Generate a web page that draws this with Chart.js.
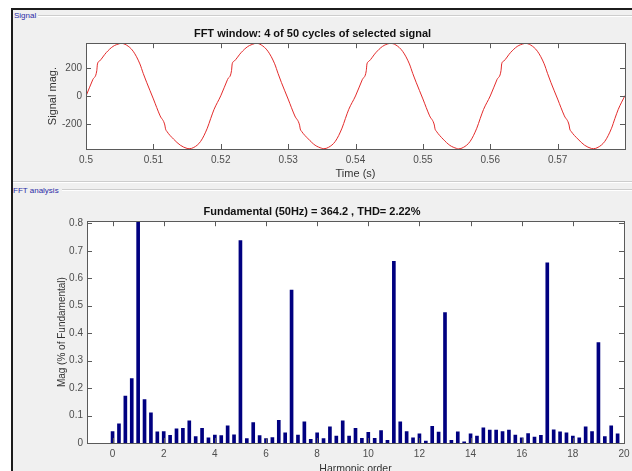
<!DOCTYPE html>
<html>
<head>
<meta charset="utf-8">
<script src="https://cdn.jsdelivr.net/npm/chart.js@4.4.1/dist/chart.umd.min.js"></script>
<style>
  body { margin: 0; width: 632px; height: 471px; overflow: hidden; position: relative; background: #fff;
         font-family: "Liberation Sans", Arial, sans-serif; }
  #fig { position: absolute; left: 11px; top: 8px; width: 621px; height: 463px; background: #f0f0f0;
         border-left: 2px solid #1c1c1c; border-top: 2px solid #1c1c1c; box-sizing: border-box; }
  .rule { position: absolute; height: 1px; background: #cdcdcd; border-bottom: 1px solid #fff; right: 0; }
  .plbl { position: absolute; font-size: 8px; color: #2b2ba6; line-height: 10px; }
  canvas { position: absolute; left: 0; }
</style>
</head>
<body>
<div id="fig"></div>
<div class="rule" style="left:38px; top:15px;"></div>
<div class="plbl" style="left:14px; top:11px;">Signal</div>
<div class="rule" style="left:13px; top:181px;"></div>
<div class="rule" style="left:62px; top:189px;"></div>
<div class="plbl" style="left:13px; top:186px;">FFT analysis</div>
<canvas id="signal-chart" width="632" height="190" style="top:0"></canvas>
<canvas id="fft-chart" width="632" height="290" style="top:190px"></canvas>
<script>
// signal window (4 cycles)
const signalTime = [
  0.5, 0.501, 0.5016, 0.5017, 0.502, 0.503, 0.504, 0.505, 0.5052, 0.506, 0.507, 0.508, 0.5085, 0.509,
  0.51, 0.511, 0.5117, 0.5118, 0.512, 0.513, 0.514, 0.515, 0.5153, 0.516, 0.517, 0.518, 0.5185, 0.519,
  0.52, 0.521, 0.5216, 0.5217, 0.522, 0.523, 0.524, 0.525, 0.5252, 0.526, 0.527, 0.528, 0.5285, 0.529,
  0.53, 0.531, 0.5317, 0.5318, 0.532, 0.533, 0.534, 0.535, 0.5353, 0.536, 0.537, 0.538, 0.5385, 0.539,
  0.54, 0.541, 0.5416, 0.5417, 0.542, 0.543, 0.544, 0.545, 0.5452, 0.546, 0.547, 0.548, 0.5485, 0.549,
  0.55, 0.551, 0.5517, 0.5518, 0.552, 0.553, 0.554, 0.555, 0.5553, 0.556, 0.557, 0.558, 0.5585, 0.559,
  0.56, 0.561, 0.5616, 0.5617, 0.562, 0.563, 0.564, 0.565, 0.5652, 0.566, 0.567, 0.568, 0.5685, 0.569,
  0.57, 0.571, 0.5717, 0.5718, 0.572, 0.573, 0.574, 0.575, 0.5753, 0.576, 0.577, 0.578, 0.5785, 0.579,
  0.58
];
const signalMag = [
  0, 116, 180, 228, 248, 308, 352, 372, 374, 362, 318, 228, 160, 98,
  -20, -140, -205, -232, -250, -305, -348, -371, -373, -364, -322, -228, -160, -95,
  2, 117, 181, 229, 248, 307, 351, 372, 375, 363, 318, 229, 161, 97,
  -21, -141, -206, -233, -250, -304, -348, -370, -373, -363, -321, -227, -159, -94,
  1, 116, 180, 228, 247, 307, 352, 373, 374, 362, 317, 228, 160, 98,
  -20, -140, -205, -232, -249, -305, -349, -371, -374, -364, -322, -228, -160, -95,
  1, 117, 181, 229, 248, 308, 352, 372, 374, 362, 318, 229, 161, 97,
  -21, -140, -205, -233, -250, -304, -348, -371, -373, -363, -321, -228, -159, -94,
  4
];
const timeTicks = [0.5, 0.51, 0.52, 0.53, 0.54, 0.55, 0.56, 0.57];
const signalTicks = [-200, 0, 200];

// FFT bars: harmonic order (12.5 Hz bins) and magnitude in % of fundamental
const harmonicOrder = [
  0, 0.25, 0.5, 0.75, 1, 1.25, 1.5, 1.75, 2, 2.25, 2.5, 2.75, 3, 3.25, 3.5, 3.75,
  4, 4.25, 4.5, 4.75, 5, 5.25, 5.5, 5.75, 6, 6.25, 6.5, 6.75, 7, 7.25, 7.5, 7.75,
  8, 8.25, 8.5, 8.75, 9, 9.25, 9.5, 9.75, 10, 10.25, 10.5, 10.75, 11, 11.25, 11.5, 11.75,
  12, 12.25, 12.5, 12.75, 13, 13.25, 13.5, 13.75, 14, 14.25, 14.5, 14.75, 15, 15.25, 15.5, 15.75,
  16, 16.25, 16.5, 16.75, 17, 17.25, 17.5, 17.75, 18, 18.25, 18.5, 18.75, 19, 19.25, 19.5, 19.75
];
const harmonicMag = [
  0.042, 0.070, 0.171, 0.235, 100, 0.158, 0.110, 0.041, 0.042, 0.028, 0.052, 0.053, 0.081, 0.023, 0.053, 0.019,
  0.029, 0.027, 0.063, 0.030, 0.737, 0.016, 0.074, 0.027, 0.016, 0.020, 0.083, 0.037, 0.557, 0.029, 0.077, 0.013,
  0.037, 0.016, 0.059, 0.025, 0.081, 0.025, 0.053, 0.017, 0.039, 0.017, 0.045, 0.010, 0.662, 0.077, 0.042, 0.019,
  0.033, 0.007, 0.061, 0.040, 0.475, 0.010, 0.041, 0.004, 0.033, 0.025, 0.055, 0.047, 0.047, 0.042, 0.047, 0.029,
  0.019, 0.034, 0.022, 0.028, 0.656, 0.048, 0.041, 0.037, 0.025, 0.019, 0.059, 0.042, 0.366, 0.023, 0.063, 0.033
];
const harmonicTicks = [0, 2, 4, 6, 8, 10, 12, 14, 16, 18, 20];
const magTicks = [0, 0.1, 0.2, 0.3, 0.4, 0.5, 0.6, 0.7, 0.8];

const TICK_COLOR = '#4d4d4d';
const BOX_COLOR = '#5a5a5a';

// white plot area + matlab style box with inward ticks on all four sides
const matlabAxes = {
  id: 'matlabAxes',
  beforeDraw(chart) {
    const a = chart.chartArea, ctx = chart.ctx;
    ctx.save();
    ctx.fillStyle = '#fff';
    ctx.fillRect(a.left, a.top, a.right - a.left, a.bottom - a.top);
    ctx.restore();
  },
  afterDatasetsDraw(chart) {
    const a = chart.chartArea, ctx = chart.ctx;
    const len = 5;
    ctx.save();
    ctx.strokeStyle = BOX_COLOR;
    ctx.lineWidth = 1;
    ctx.strokeRect(Math.round(a.left) + 0.5, Math.round(a.top) + 0.5,
      Math.round(a.right - a.left), Math.round(a.bottom - a.top));
    ctx.beginPath();
    const xs = chart.scales.x, ys = chart.scales.y;
    xs.ticks.forEach(t => {
      const px = Math.round(xs.getPixelForValue(t.value)) + 0.5;
      ctx.moveTo(px, a.bottom); ctx.lineTo(px, a.bottom - len);
      ctx.moveTo(px, a.top); ctx.lineTo(px, a.top + len);
    });
    ys.ticks.forEach(t => {
      const py = Math.round(ys.getPixelForValue(t.value)) + 0.5;
      ctx.moveTo(a.left, py); ctx.lineTo(a.left + len, py);
      ctx.moveTo(a.right, py); ctx.lineTo(a.right - len, py);
    });
    ctx.stroke();
    ctx.restore();
  }
};

function fixedTicks(list) {
  return scale => { scale.ticks = list.map(v => ({ value: v })); };
}

const tickFont = { family: '"Liberation Sans", Arial, sans-serif', size: 10 };
const noGrid = { display: false, drawTicks: false };

// ---- signal plot ----
new Chart(document.getElementById('signal-chart').getContext('2d'), {
  type: 'line',
  data: {
    datasets: [{
      data: signalTime.map((t, i) => ({ x: t, y: signalMag[i] })),
      borderColor: '#e32b2b',
      borderWidth: 1,
      pointRadius: 0,
      cubicInterpolationMode: 'monotone'
    }]
  },
  options: {
    responsive: false,
    animation: false,
    devicePixelRatio: 1,
    layout: { padding: { left: 0, right: 7, top: 27, bottom: 0 } },
    plugins: {
      legend: { display: false },
      tooltip: { enabled: false },
      title: {
        display: true,
        text: 'FFT window: 4 of 50 cycles of selected signal',
        color: '#111',
        font: { family: '"Liberation Sans", Arial, sans-serif', size: 11, weight: 'bold' },
        padding: { top: 0, bottom: 3 }
      }
    },
    scales: {
      x: {
        type: 'linear', min: 0.5, max: 0.58,
        afterBuildTicks: fixedTicks(timeTicks),
        afterFit: s => { s.height = 41; s.paddingLeft = 0; s.paddingRight = 0; },
        grid: noGrid,
        border: { display: false },
        ticks: { color: TICK_COLOR, font: tickFont, padding: 5, maxRotation: 0, autoSkip: false,
                 callback: v => String(v) },
        title: { display: true, text: 'Time (s)', color: '#333',
                 font: { family: '"Liberation Sans", Arial, sans-serif', size: 11 }, padding: { top: 0, bottom: 9 } }
      },
      y: {
        type: 'linear', min: -375, max: 375,
        afterBuildTicks: fixedTicks(signalTicks),
        afterFit: s => { s.width = 86; },
        grid: noGrid,
        border: { display: false },
        ticks: { color: TICK_COLOR, font: tickFont, padding: 4, autoSkip: false, callback: v => String(v) },
        title: { display: true, text: 'Signal mag.', color: '#333',
                 font: { family: '"Liberation Sans", Arial, sans-serif', size: 11 }, padding: { top: 46, bottom: 0 } }
      }
    }
  },
  plugins: [matlabAxes]
});

// ---- FFT bar plot ----
new Chart(document.getElementById('fft-chart').getContext('2d'), {
  type: 'bar',
  data: {
    datasets: [{
      data: harmonicOrder.map((h, i) => ({ x: h, y: harmonicMag[i] })),
      backgroundColor: '#000080',
      borderWidth: 0,
      barThickness: 3
    }]
  },
  options: {
    responsive: false,
    animation: false,
    devicePixelRatio: 1,
    layout: { padding: { left: 0, right: 8, top: 15, bottom: 0 } },
    plugins: {
      legend: { display: false },
      tooltip: { enabled: false },
      title: {
        display: true,
        text: 'Fundamental (50Hz) = 364.2 , THD= 2.22%',
        color: '#111',
        font: { family: '"Liberation Sans", Arial, sans-serif', size: 11, weight: 'bold' },
        padding: { top: 0, bottom: 3 }
      }
    },
    scales: {
      x: {
        type: 'linear', min: -1, max: 20, offset: false,
        afterBuildTicks: fixedTicks(harmonicTicks),
        afterFit: s => { s.height = 37; s.paddingLeft = 0; s.paddingRight = 0; },
        grid: { display: false, drawTicks: false, offset: false },
        border: { display: false },
        ticks: { color: TICK_COLOR, font: tickFont, padding: 5, maxRotation: 0, autoSkip: false,
                 callback: v => String(v) },
        title: { display: true, text: 'Harmonic order', color: '#333',
                 font: { family: '"Liberation Sans", Arial, sans-serif', size: 10.5 }, padding: { top: 0, bottom: 5 } }
      },
      y: {
        type: 'linear', min: 0, max: 0.808,
        afterBuildTicks: fixedTicks(magTicks),
        afterFit: s => { s.width = 87; },
        grid: noGrid,
        border: { display: false },
        ticks: { color: TICK_COLOR, font: tickFont, padding: 4, autoSkip: false, callback: v => String(v) },
        title: { display: true, text: 'Mag (% of Fundamental)', color: '#333',
                 font: { family: '"Liberation Sans", Arial, sans-serif', size: 10 }, padding: { top: 56, bottom: 0 } }
      }
    }
  },
  plugins: [matlabAxes]
});
</script>
</body>
</html>
